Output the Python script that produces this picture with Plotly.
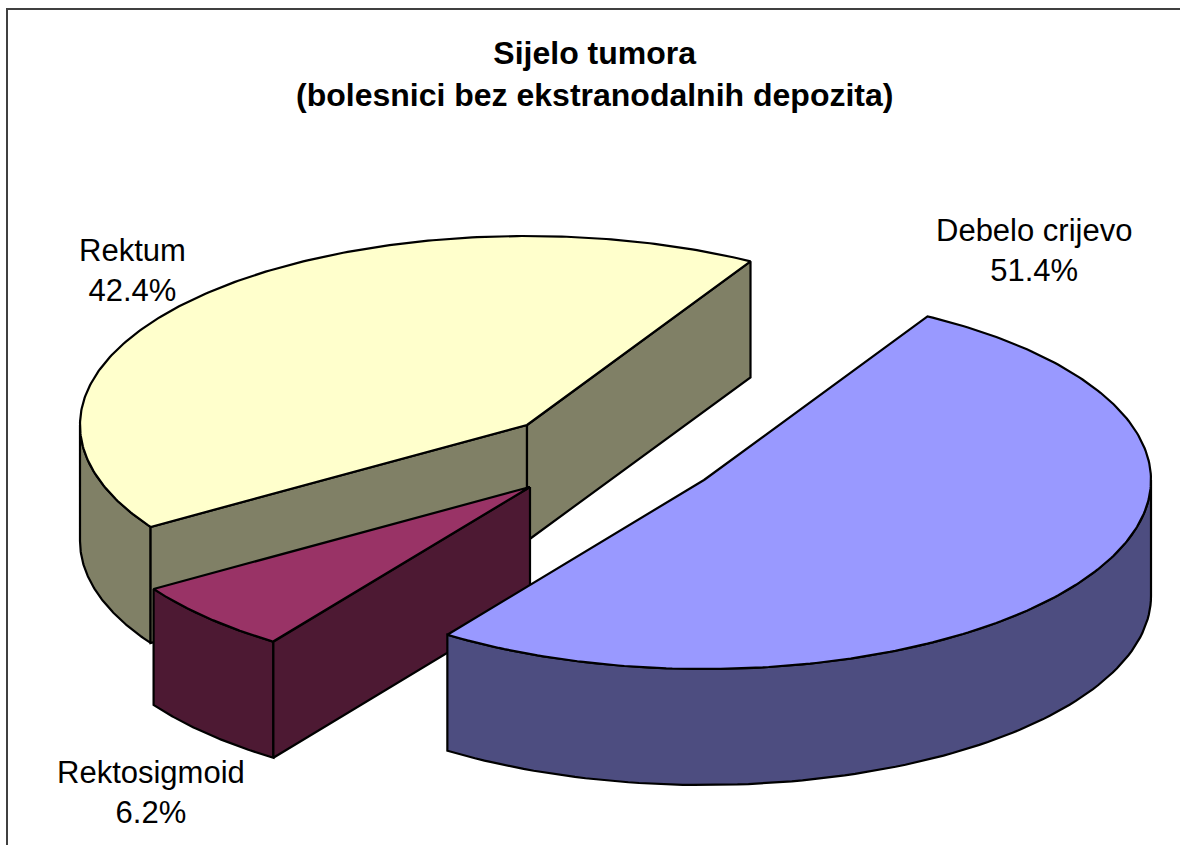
import numpy as np
import plotly.graph_objects as go

categories = ["Debelo crijevo", "Rektosigmoid", "Rektum"]
values = [51.4, 6.2, 42.4]
top_colors = ["#9999FF", "#993366", "#FFFFCC"]
side_colors = ["#4D4D80", "#4D1933", "#808066"]

W, H = 1180, 845
RX, RY, DEPTH = 447, 189, 116
START = 60.0
apexes = {"Debelo crijevo": (704, 480), "Rektosigmoid": (530, 487), "Rektum": (527, 425)}
EDGE = dict(color="black", width=2.2)

def arc(c, t0, t1, dy=0, n=90):
    t = np.radians(np.linspace(t0, t1, n))
    return c[0] + RX * np.cos(t), c[1] - RY * np.sin(t) + dy

def poly(fig, x, y, color):
    fig.add_trace(go.Scatter(x=np.append(x, x[0]), y=np.append(y, y[0]), mode="lines", fill="toself",
                             fillcolor=color, line=EDGE, hoverinfo="skip", showlegend=False))

# clockwise angular spans taken from the values
spans = {}
a = START
for name, v in zip(categories, values):
    spans[name] = (a, a - v * 3.6)
    a -= v * 3.6

def wall(fig, c, t0, t1, color):
    x1, y1 = arc(c, t0, t1)
    x2, y2 = arc(c, t1, t0, DEPTH)
    poly(fig, np.r_[x1, x2], np.r_[y1, y2], color)

def face(fig, c, t, color):
    x, y = arc(c, t, t, n=1)
    poly(fig, np.array([c[0], x[0], x[0], c[0]]), np.array([c[1], y[0], y[0] + DEPTH, c[1] + DEPTH]), color)

def top(fig, c, t0, t1, color):
    x, y = arc(c, t0, t1, n=240)
    poly(fig, np.r_[c[0], x], np.r_[c[1], y], color)

fig = go.Figure()
order = [2, 1, 0]
for i in order:
    name = categories[i]
    c = apexes[name]
    t0, t1 = spans[name]
    if name == "Rektum":
        wall(fig, c, t0, -180, side_colors[i])
        face(fig, c, t0, side_colors[i])
        face(fig, c, t1, side_colors[i])
    elif name == "Rektosigmoid":
        wall(fig, c, t0, t1, side_colors[i])
        face(fig, c, t0, side_colors[i])
    else:
        wall(fig, c, 0, t1, side_colors[i])
    top(fig, c, t0, t1, top_colors[i])

FONT = "Liberation Sans, Arial, sans-serif"
labels = {"Debelo crijevo": (1034, 250), "Rektosigmoid": (151, 792), "Rektum": (132, 270)}
ann = []
for name, v in zip(categories, values):
    lx, ly = labels[name]
    ann.append(dict(x=lx, y=ly, xref="x", yref="y", showarrow=False, align="center",
                    text=f"{name}<br>{v:.1f}%", font=dict(family=FONT, size=31, color="black")))
ann.append(dict(x=594, y=74, xref="x", yref="y", showarrow=False, align="center",
                text="<b>Sijelo tumora<br>(bolesnici bez ekstranodalnih depozita)</b>",
                font=dict(family=FONT, size=32, color="black")))

fig.update_layout(
    width=W, height=H, margin=dict(l=0, r=0, t=0, b=0),
    paper_bgcolor="white", plot_bgcolor="white",
    xaxis=dict(range=[0, W], visible=False, fixedrange=True),
    yaxis=dict(range=[H, 0], visible=False, fixedrange=True),
    annotations=ann,
    shapes=[dict(type="rect", xref="x", yref="y", x0=7, y0=9, x1=W + 50, y1=H + 50,
                 line=dict(color="#404040", width=2), layer="below")],
)
fig.write_html("out.html", config={"displayModeBar": False},
               post_script="document.body.style.margin='0';document.body.style.overflow='hidden';")
